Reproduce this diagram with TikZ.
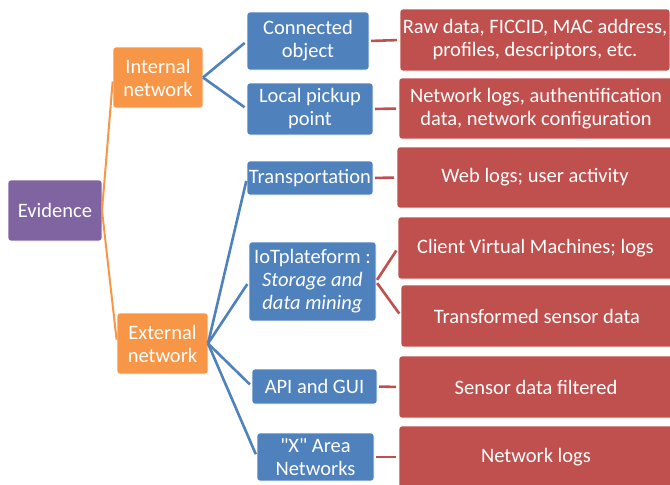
\documentclass[tikz,border=0pt]{standalone}
\usepackage{fontspec}
\setmainfont{Carlito}
\definecolor{cpurple}{HTML}{8064A2}
\definecolor{corange}{HTML}{F79646}
\definecolor{cblue}{HTML}{4F81BD}
\definecolor{cred}{HTML}{C0504D}
\tikzset{
  box/.style={rounded corners=3pt, draw=white, line width=0.6pt, text=white, align=center,
    font=\fontsize{20.5}{23}\selectfont, inner sep=0pt, outer sep=0pt},
  purplebox/.style={box, fill=cpurple},
  orangebox/.style={box, fill=corange},
  bluebox/.style={box, fill=cblue},
  redbox/.style={box, fill=cred},
  oline/.style={draw=corange, line width=2pt, shorten >=4pt},
  bline/.style={draw=cblue, line width=2.6pt, shorten >=3pt},
  rline/.style={draw=cred, line width=2.6pt, shorten >=3pt, shorten <=2pt},
}
\newcommand{\bx}[6]{\node[#1, minimum width=#4pt, minimum height=#5pt] (#2) at (#3) {#6};}
\begin{document}
\begin{tikzpicture}[x=1pt,y=-1pt]
\useasboundingbox (0,0) rectangle (670,485);
\clip (0,0) rectangle (670,485);
% level 0
\bx{purplebox}{ev}{55,210.5}{94}{61}{Evidence}
% level 1
\bx{orangebox}{int}{158,77.5}{90}{61}{Internal\\network}
\bx{orangebox}{ext}{162.5,343.5}{91}{61}{External\\network}
% level 2
\bx{bluebox}{con}{308,41}{122}{58}{Connected\\object}
\bx{bluebox}{loc}{310,109}{126}{52}{Local pickup\\point}
\bx{bluebox}{tra}{310,178}{126}{34}{Transportation}
\bx{bluebox}{iot}{312.5,281.5}{127}{79}{IoTplateform :\\\textit{Storage and}\\\textit{data mining}}
\bx{bluebox}{api}{314.5,386.5}{125}{35}{API and GUI}
\bx{bluebox}{xan}{315.5,457}{117}{48}{\textquotedbl X\textquotedbl{} Area\\Networks}
% level 3
\bx{redbox}{raw}{535,40}{270}{62}{Raw data, FICCID, MAC address,\\profiles, descriptors, etc.}
\bx{redbox}{nla}{536,108.5}{274}{61}{Network logs, authentification\\data, network configuration}
\bx{redbox}{web}{535,177.5}{276}{61}{Web logs; user activity}
\bx{redbox}{cvm}{535.5,248}{275}{62}{Client Virtual Machines; logs}
\bx{redbox}{tsd}{537,316}{272}{62}{Transformed sensor data}
\bx{redbox}{sdf}{536,387}{274}{62}{Sensor data filtered}
\bx{redbox}{nlg}{536,457}{274}{62}{Network logs}
% connectors
\draw[oline] (ev.east) -- (int.west);
\draw[oline] (ev.east) -- (ext.west);
\draw[bline] (int.east) -- (con.west);
\draw[bline] (int.east) -- (loc.west);
\draw[bline] (ext.east) -- (tra.west);
\draw[bline] (ext.east) -- (iot.west);
\draw[bline] (ext.east) -- (api.west);
\draw[bline] (ext.east) -- (xan.west);
\draw[rline] (con.east) -- (raw.west);
\draw[rline] (loc.east) -- (nla.west);
\draw[rline] (tra.east) -- (web.west);
\draw[rline] (iot.east) -- (cvm.west);
\draw[rline] (iot.east) -- (tsd.west);
\draw[rline] (api.east) -- (sdf.west);
\draw[rline] (xan.east) -- (nlg.west);
\end{tikzpicture}
\end{document}
